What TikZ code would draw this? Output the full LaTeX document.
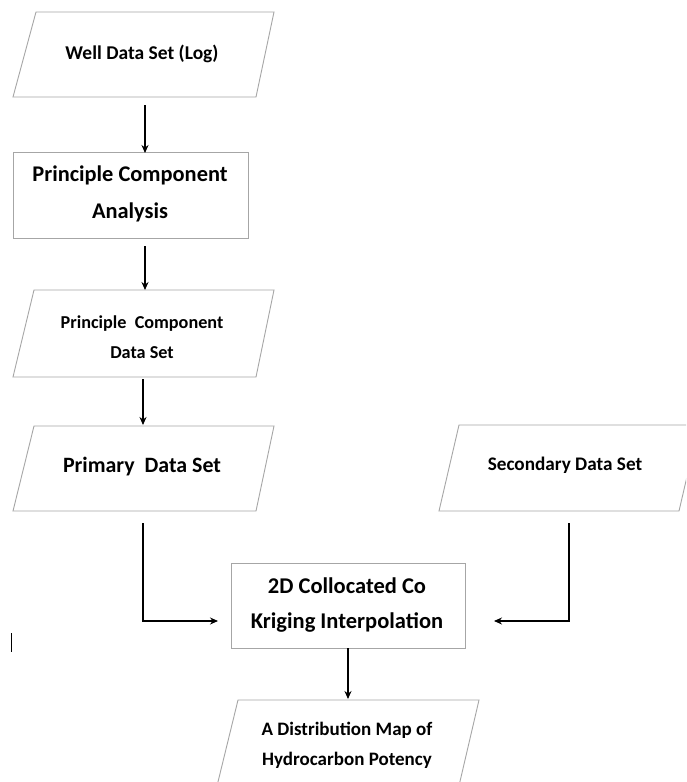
\documentclass[tikz,border=0pt]{standalone}
\usepackage{fontspec}
\setmainfont{Carlito}
\usetikzlibrary{arrows.meta,calc}
\tikzset{
  box/.style={draw=gray!70, line width=0.9pt},
  txt/.style={align=center, font=\bfseries, inner sep=0pt},
  arr/.style={draw=black, line width=1.1pt, -{Stealth[length=8pt,width=7pt]}},
  plain/.style={draw=black, line width=1pt}
}
\begin{document}
\begin{tikzpicture}[x=1pt,y=-1pt]
\useasboundingbox (0,0) rectangle (686,782);
\fill[white] (0,0) rectangle (686,782);
\begin{scope}
\clip (0,0) rectangle (686,782);
% outlines
\draw[box] (36,12) -- (274,12) -- (256,97) -- (13,97) -- cycle;
\draw[box] (13,152) rectangle (248,238);
\draw[box] (34,290) -- (274,290) -- (256,377) -- (13,377) -- cycle;
\draw[box] (34,426) -- (274,426) -- (256,511) -- (13,511) -- cycle;
\draw[box] (459,425) -- (699,425) -- (679,511) -- (439,511) -- cycle;
\draw[box] (231,563) rectangle (465,648);
\draw[box] (238,700) -- (479,700) -- (458,790) -- (216,790) -- cycle;
\end{scope}
% text nodes
\node[txt, font=\bfseries\fontsize{19.5}{22}\selectfont] (well) at (142,54) {Well Data Set (Log)};
\node[txt, font=\bfseries\fontsize{22.4}{37}\selectfont] (pca) at (130,194) {Principle Component\\Analysis};
\node[txt, font=\bfseries\fontsize{18.2}{30}\selectfont] (pcds) at (142,337) {Principle\ \ Component\\Data Set};
\node[txt, font=\bfseries\fontsize{21.9}{25}\selectfont] (prim) at (142,467) {Primary\ \ Data Set};
\node[txt, font=\bfseries\fontsize{19.2}{22}\selectfont] (sec) at (565,465) {Secondary Data Set};
\node[txt, font=\bfseries\fontsize{22.5}{35}\selectfont] (krig) at (347,605) {2D Collocated Co\\Kriging Interpolation};
\node[txt, font=\bfseries\fontsize{19}{30}\selectfont] (map) at (347,745) {A Distribution Map of\\Hydrocarbon Potency};
% connector coordinates
\coordinate (w1) at (145,105);
\coordinate (p1) at (145,153);
\coordinate (p2) at (145,246);
\coordinate (c1) at (145,290);
\coordinate (c2) at (143,379);
\coordinate (r1) at (143,425);
\coordinate (r2) at (143,523);
\coordinate (k1) at (218,621);
\coordinate (s2) at (569,523);
\coordinate (k2) at (494,621);
\coordinate (k3) at (348,648);
\coordinate (m1) at (348,699);
\draw[arr] (w1) -- (p1);
\draw[arr] (p2) -- (c1);
\draw[arr] (c2) -- (r1);
\draw[arr] (r2) |- (k1);
\draw[arr] (s2) |- (k2);
\draw[arr] (k3) -- (m1);
% stray cursor mark
\coordinate (cur1) at (11,633);
\coordinate (cur2) at (11,652);
\draw[plain] (cur1) -- (cur2);
\end{tikzpicture}
\end{document}
